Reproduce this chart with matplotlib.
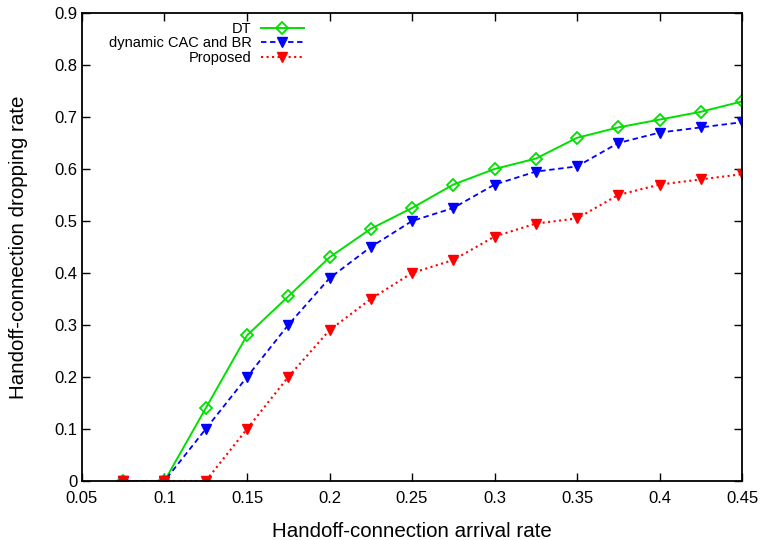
import numpy as np
import matplotlib
matplotlib.use("Agg")
import matplotlib.pyplot as plt

plt.rcParams['font.family'] = ['Liberation Sans', 'DejaVu Sans']

# Arrival rates and dropping rates for each scheme
arrival_rate = [0.075, 0.1, 0.125, 0.15, 0.175, 0.2, 0.225, 0.25,
                0.275, 0.3, 0.325, 0.35, 0.375, 0.4, 0.425, 0.45]
drop_dt = [0, 0, 0.14, 0.28, 0.355, 0.43, 0.485, 0.525,
           0.57, 0.60, 0.62, 0.66, 0.68, 0.695, 0.71, 0.73]
drop_cac_br = [0, 0, 0.10, 0.20, 0.30, 0.39, 0.45, 0.50,
               0.525, 0.57, 0.595, 0.605, 0.65, 0.67, 0.68, 0.69]
drop_proposed = [0, 0, 0, 0.10, 0.20, 0.29, 0.35, 0.40,
                 0.425, 0.47, 0.495, 0.505, 0.55, 0.57, 0.58, 0.59]

fig = plt.figure(figsize=(7.62, 5.4), dpi=100)
ax = fig.add_axes([0.1076, 0.1093, 0.8662, 0.8666])

ax.plot(arrival_rate, drop_dt, color='#00e000', linestyle='-', linewidth=1.4,
        marker='D', markersize=6.5, markerfacecolor='none', markeredgewidth=1.3,
        label='DT')
ax.plot(arrival_rate, drop_cac_br, color='#0000ff', linestyle='--', linewidth=1.3,
        dashes=(3, 2), marker='v', markersize=7, label='dynamic CAC and BR')
ax.plot(arrival_rate, drop_proposed, color='#ff0000', linestyle=':', linewidth=1.5,
        marker='v', markersize=7, label='Proposed')

ax.set_xlim(0.05, 0.45)
ax.set_ylim(0, 0.9)
ax.set_xticks(np.arange(0.05, 0.451, 0.05))
ax.set_xticklabels(['0.05', '0.1', '0.15', '0.2', '0.25', '0.3', '0.35', '0.4', '0.45'])
ax.set_yticks(np.arange(0, 0.91, 0.1))
ax.set_yticklabels(['0', '0.1', '0.2', '0.3', '0.4', '0.5', '0.6', '0.7', '0.8', '0.9'])
ax.tick_params(direction='in', top=True, right=True, labelsize=12, length=6, width=1)
ax.tick_params(axis='x', pad=7)
for s in ax.spines.values():
    s.set_linewidth(1.3)

ax.set_xlabel('Handoff-connection arrival rate', fontsize=14.8, labelpad=12)
ax.set_ylabel('Handoff-connection dropping rate', fontsize=14.8, labelpad=19)

ax.legend(loc='upper right', bbox_to_anchor=(0.35, 1.0), frameon=False,
          markerfirst=False, fontsize=10.5, labelspacing=0.05, handlelength=3.0,
          handletextpad=0.6, borderaxespad=0.2)

fig.savefig('out.png', dpi=100)
